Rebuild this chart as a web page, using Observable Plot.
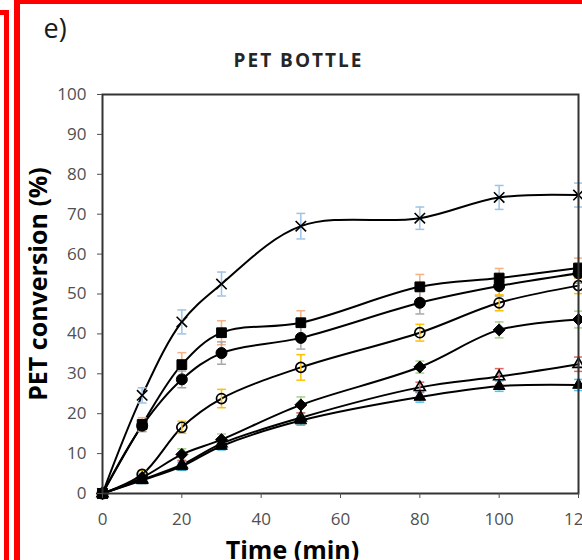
<!DOCTYPE html>
<html>
<head>
<meta charset="utf-8">
<script src="https://cdn.jsdelivr.net/npm/d3@7"></script>
<script src="https://cdn.jsdelivr.net/npm/@observablehq/plot@0.6"></script>
<style>
  body { margin: 0; background: #fff; }
  #wrap { position: relative; width: 582px; height: 560px; overflow: hidden; background: #fff; }
  #wrap svg { position: absolute; left: 0; top: 0; }
  .red { position: absolute; background: #ff0000; }
</style>
</head>
<body>
<div id="wrap"></div>
<script>
// ---- data ----
const times = [0, 10, 20, 30, 50, 80, 100, 120];
const xTicks = [0, 20, 40, 60, 80, 100, 120];
const yTicks = [0, 10, 20, 30, 40, 50, 60, 70, 80, 90, 100];

const seriesNames = ["cross", "square", "circle", "openCircle", "diamond", "openTriangle", "triangle"];

const crossValues        = [0, 24.6, 43.0, 52.5, 67.0, 69.0, 74.2, 74.8];
const squareValues       = [0, 17.3, 32.3, 40.3, 42.8, 51.8, 54.0, 56.5];
const circleValues       = [0, 17.0, 28.6, 35.2, 39.0, 47.8, 52.0, 55.2];
const openCircleValues   = [0, 4.8, 16.6, 23.8, 31.6, 40.3, 47.8, 52.1];
const diamondValues      = [0, 4.0, 9.8, 13.5, 22.2, 31.7, 41.0, 43.6];
const openTriangleValues = [0, 3.5, 7.2, 12.5, 19.0, 26.6, 29.3, 32.4];
const triangleValues     = [0, 3.3, 6.8, 11.9, 18.3, 24.2, 26.9, 27.2];

const crossErrors        = [0, 1.9, 3.0, 3.0, 3.2, 2.8, 3.0, 3.0];
const squareErrors       = [0, 1.7, 3.0, 3.0, 3.0, 3.1, 2.4, 2.5];
const circleErrors       = [0, 1.5, 2.1, 2.8, 2.8, 2.8, 2.5, 2.5];
const openCircleErrors   = [0, 1.0, 1.5, 2.3, 3.2, 2.1, 2.0, 2.0];
const diamondErrors      = [0, 1.0, 1.4, 1.4, 2.0, 1.5, 2.0, 2.1];
const openTriangleErrors = [0, 0.8, 1.0, 1.0, 1.2, 1.3, 2.0, 1.8];
const triangleErrors     = [0, 0.8, 1.0, 1.0, 1.2, 1.3, 1.3, 1.4];

const titleText = "PET BOTTLE";
const panelText = "e)";
const xLabel = "Time (min)";
const yLabel = "PET conversion (%)";

// ---- styles (per series) ----
const valueSets = [crossValues, squareValues, circleValues, openCircleValues, diamondValues, openTriangleValues, triangleValues];
const errorSets = [crossErrors, squareErrors, circleErrors, openCircleErrors, diamondErrors, openTriangleErrors, triangleErrors];
const styles = {
  cross:        {symbol: "times",     r: 4.8, fill: "none",  stroke: "black", sw: 1.6, err: "#9DC3E6"},
  square:       {symbol: "square",    r: 5.5, fill: "black", stroke: "black", sw: 1,   err: "#F4B183"},
  circle:       {symbol: "circle",    r: 5.5, fill: "black", stroke: "black", sw: 1,   err: "#A6A6A6"},
  openCircle:   {symbol: "circle",    r: 5.0, fill: "none",  stroke: "black", sw: 1.7, err: "#FFC000"},
  diamond:      {symbol: "diamond2",  r: 5.4, fill: "black", stroke: "black", sw: 1,   err: "#A9D18E"},
  openTriangle: {symbol: "triangle2", r: 5.2, fill: "none",  stroke: "black", sw: 1.7, err: "#E06666"},
  triangle:     {symbol: "triangle",  r: 4.3, fill: "black", stroke: "black", sw: 1,   err: "#4FC3F7"}
};

const rows = [];
seriesNames.forEach((s, i) => {
  times.forEach((t, j) => rows.push({series: s, t, v: valueSets[i][j], e: errorSets[i][j]}));
});

const capSymbol = {
  draw(ctx, size) {
    const w = Math.sqrt(size) / 2;
    ctx.moveTo(-w, 0);
    ctx.lineTo(w, 0);
  }
};

const marks = [];
// lines
marks.push(Plot.line(rows, {x: "t", y: "v", z: "series", curve: "catmull-rom", stroke: "black", strokeWidth: 2}));
// error bars
seriesNames.forEach(s => {
  const st = styles[s];
  const de = rows.filter(r => r.series === s && r.e > 0);
  marks.push(Plot.ruleX(de, {x: "t", y1: r => r.v - r.e, y2: r => r.v + r.e, stroke: st.err, strokeWidth: 1.5}));
  marks.push(Plot.dot(de, {x: "t", y: r => r.v + r.e, symbol: capSymbol, r: 5, fill: "none", stroke: st.err, strokeWidth: 1.5}));
  marks.push(Plot.dot(de, {x: "t", y: r => r.v - r.e, symbol: capSymbol, r: 5, fill: "none", stroke: st.err, strokeWidth: 1.5}));
});
// markers
seriesNames.forEach(s => {
  const st = styles[s];
  const d = rows.filter(r => r.series === s);
  marks.push(Plot.dot(d, {x: "t", y: "v", symbol: st.symbol, r: st.r, fill: st.fill, stroke: st.stroke, strokeWidth: st.sw}));
});

marks.push(Plot.frame({stroke: "#333333", strokeWidth: 2}));
marks.push(Plot.axisX({ticks: xTicks, tickSize: 5, tickPadding: 14, fontSize: 17, color: "#505050", label: null}));
marks.push(Plot.axisY({ticks: yTicks, tickSize: 5, tickPadding: 11, fontSize: 17, color: "#505050", label: null}));

marks.push(Plot.text([yLabel], {text: d => d, frameAnchor: "left", rotate: -90, dx: -64, dy: -10, fontSize: 25, fontWeight: "bold", fill: "black", textAnchor: "middle", lineAnchor: "middle"}));
marks.push(Plot.text([xLabel], {text: d => d, frameAnchor: "bottom", dx: -48, dy: 65, fontSize: 25, fontWeight: "bold", fill: "black", textAnchor: "middle", lineAnchor: "bottom"}));
marks.push(Plot.text([titleText], {text: d => d, frameAnchor: "top", dx: -42, dy: -28, fontSize: 19, fontWeight: "bold", fill: "#262626", textAnchor: "middle", lineAnchor: "bottom"}));
marks.push(Plot.text([panelText], {text: d => d, frameAnchor: "top-left", dx: -59, dy: -57, fontSize: 27, fill: "#1a1a1a", textAnchor: "start", lineAnchor: "bottom"}));

const chart = Plot.plot({
  width: 582,
  height: 560,
  marginLeft: 102,
  marginRight: 4,
  marginTop: 94,
  marginBottom: 67,
  x: {domain: [0, 120], label: null},
  y: {domain: [0, 100], label: null},
  style: {fontFamily: "'Open Sans', sans-serif", background: "transparent", overflow: "visible"},
  marks
});

chart.querySelectorAll("text").forEach(t => {
  if (t.textContent === titleText) t.setAttribute("letter-spacing", "2");
});

const wrap = document.getElementById("wrap");
wrap.appendChild(chart);

// decorative red panel borders
[
  {left: 0, top: 10, width: 9, height: 5},
  {left: 4, top: 10, width: 5, height: 550},
  {left: 14, top: 0, width: 6, height: 560},
  {left: 14, top: 0, width: 568, height: 4}
].forEach(b => {
  const el = document.createElement("div");
  el.className = "red";
  Object.assign(el.style, {left: b.left + "px", top: b.top + "px", width: b.width + "px", height: b.height + "px"});
  wrap.appendChild(el);
});
</script>
</body>
</html>
